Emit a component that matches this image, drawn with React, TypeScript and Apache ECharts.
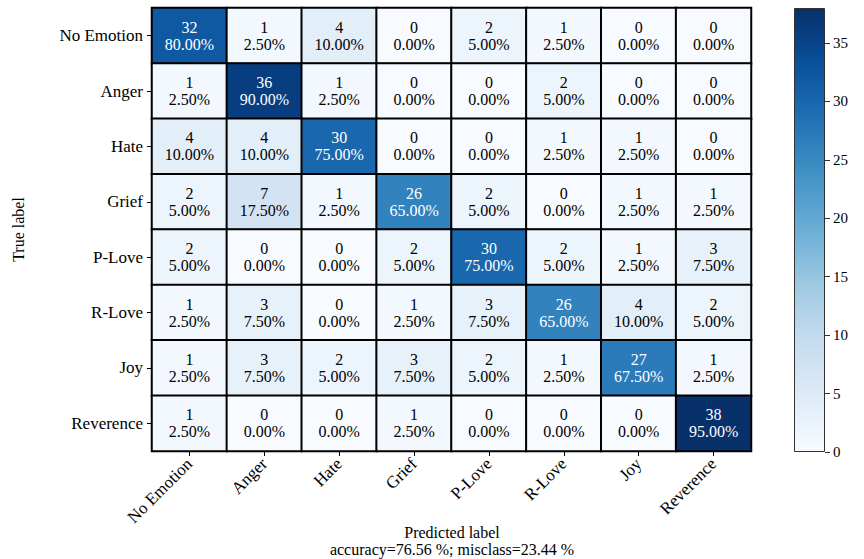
import React, { useEffect, useRef } from "react";
import * as echarts from "echarts";

const classes = ["No Emotion", "Anger", "Hate", "Grief", "P-Love", "R-Love", "Joy", "Reverence"];

// Confusion matrix counts: rows = true label, columns = predicted label
const rowNoEmotion = [32, 1, 4, 0, 2, 1, 0, 0];
const rowAnger = [1, 36, 1, 0, 0, 2, 0, 0];
const rowHate = [4, 4, 30, 0, 0, 1, 1, 0];
const rowGrief = [2, 7, 1, 26, 2, 0, 1, 1];
const rowPLove = [2, 0, 0, 2, 30, 2, 1, 3];
const rowRLove = [1, 3, 0, 1, 3, 26, 4, 2];
const rowJoy = [1, 3, 2, 3, 2, 1, 27, 1];
const rowReverence = [1, 0, 0, 1, 0, 0, 0, 38];
const matrix = [rowNoEmotion, rowAnger, rowHate, rowGrief, rowPLove, rowRLove, rowJoy, rowReverence];

const colorbarMax = 38;
const colorbarTicks = [0, 5, 10, 15, 20, 25, 30, 35];
const accuracyText = "accuracy=76.56 %; misclass=23.44 %";

// matplotlib "Blues"
const blues = ["#f7fbff", "#deebf7", "#c6dbef", "#9ecae1", "#6baed6", "#4292c6", "#2171b5", "#08519c", "#08306b"];

const FONT = "Liberation Serif";

export default function App() {
  const ref = useRef<HTMLDivElement>(null);

  useEffect(() => {
    if (!ref.current) return;
    const chart = echarts.init(ref.current, null, { renderer: "svg" });

    const threshold = colorbarMax / 2;
    const cells: any[] = [];
    matrix.forEach((row, r) => {
      const total = row.reduce((a, b) => a + b, 0);
      row.forEach((v, c) => {
        cells.push({
          value: [c, r, v, total ? (v / total) * 100 : 0],
          dark: v > threshold,
        });
      });
    });

    const lineStyle = (color: string) => ({
      fontFamily: FONT,
      fontSize: 16,
      lineHeight: 17,
      color,
    });

    const gradient = new echarts.graphic.LinearGradient(
      0, 1, 0, 0,
      blues.map((c, i) => ({ offset: i / (blues.length - 1), color: c }))
    );

    chart.setOption({
      animation: false,
      backgroundColor: "#ffffff",
      textStyle: { fontFamily: FONT },
      grid: [
        { left: 152, top: 8, width: 599, height: 443 },
        { left: 794, top: 8, width: 31, height: 444 },
      ],
      xAxis: [
        {
          type: "category",
          gridIndex: 0,
          data: classes,
          position: "bottom",
          axisLine: { show: false },
          axisTick: { show: true, length: 5, alignWithLabel: true, lineStyle: { color: "#000" } },
          axisLabel: { rotate: 45, color: "#000", fontSize: 17, fontFamily: FONT, margin: 10 },
          splitLine: { show: false },
        },
        {
          type: "category",
          gridIndex: 1,
          data: [""],
          show: false,
        },
      ],
      yAxis: [
        {
          type: "category",
          gridIndex: 0,
          data: classes,
          inverse: true,
          axisLine: { show: false },
          axisTick: { show: true, length: 5, alignWithLabel: true, lineStyle: { color: "#000" } },
          axisLabel: { color: "#000", fontSize: 17, fontFamily: FONT, margin: 9 },
          name: "True label",
          nameLocation: "middle",
          nameRotate: 90,
          nameGap: 126,
          nameTextStyle: { color: "#000", fontSize: 16, fontFamily: FONT },
        },
        {
          type: "value",
          gridIndex: 1,
          position: "right",
          min: 0,
          max: colorbarMax,
          axisLine: { show: false },
          splitLine: { show: false },
          axisTick: { show: true, length: 5, customValues: colorbarTicks, lineStyle: { color: "#333" } },
          axisLabel: { color: "#000", fontSize: 15, fontFamily: FONT, margin: 8, customValues: colorbarTicks },
        },
      ],
      visualMap: {
        type: "continuous",
        show: false,
        min: 0,
        max: colorbarMax,
        dimension: 2,
        seriesIndex: 0,
        inRange: { color: blues },
      },
      series: [
        {
          type: "heatmap",
          xAxisIndex: 0,
          yAxisIndex: 0,
          data: cells,
          itemStyle: { borderColor: "#000", borderWidth: 2 },
          label: {
            show: true,
            fontFamily: FONT,
            fontSize: 16,
            lineHeight: 17,
            formatter: (p: any) => {
              const k = p.data.dark ? "w" : "b";
              return `{${k}|${p.value[2]}}\n{${k}|${p.value[3].toFixed(2)}%}`;
            },
            rich: {
              w: lineStyle("#ffffff"),
              b: lineStyle("#000000"),
            },
          },
          emphasis: { disabled: true },
        },
        {
          type: "bar",
          xAxisIndex: 1,
          yAxisIndex: 1,
          data: [colorbarMax],
          barWidth: "100%",
          itemStyle: { color: gradient, borderColor: "#333", borderWidth: 1 },
          silent: true,
        },
      ],
      graphic: [
        {
          type: "text",
          x: 452,
          y: 524,
          style: {
            text: "Predicted label\n" + accuracyText,
            fontSize: 16,
            lineHeight: 17,
            fontFamily: FONT,
            fill: "#000",
            align: "center",
            verticalAlign: "top",
          },
        },
      ],
    });

    return () => chart.dispose();
  }, []);

  return <div ref={ref} style={{ width: 864, height: 559, position: "absolute", left: 0, top: 0 }} />;
}
